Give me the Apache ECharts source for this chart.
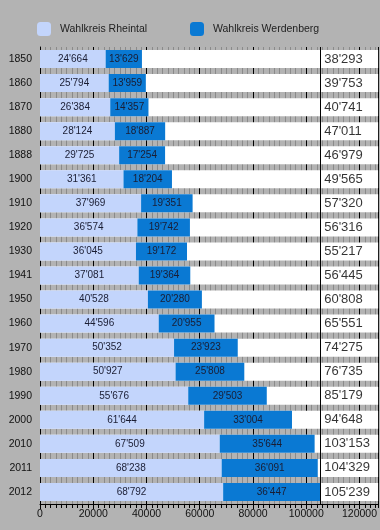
<!DOCTYPE html>
<html>
<head>
<meta charset="utf-8">
<script src="https://cdn.jsdelivr.net/npm/echarts@6/dist/echarts.min.js"></script>
<style>
html,body{margin:0;padding:0;background:#b3b3b3;}
#chart{width:380px;height:530px;}
</style>
</head>
<body>
<div id="chart"></div>
<script>
const years = ['1850','1860','1870','1880','1888','1900','1910','1920','1930','1941','1950','1960','1970','1980','1990','2000','2010','2011','2012'];
const rheintal = [24664,25794,26384,28124,29725,31361,37969,36574,36045,37081,40528,44596,50352,50927,55676,61644,67509,68238,68792];
const werdenberg = [13629,13959,14357,18887,17254,18204,19351,19742,19172,19364,20280,20955,23923,25808,29503,33004,35644,36091,36447];
const totals = [38293,39753,40741,47011,46979,49565,57320,56316,55217,56445,60808,65551,74275,76735,85179,94648,103153,104329,105239];
const xTicks = [0,20000,40000,60000,80000,100000,120000];
const seriesNames = ['Wahlkreis Rheintal','Wahlkreis Werdenberg'];

const FONT = "'Liberation Sans', Arial, sans-serif";
const LIGHT = '#c3d5fc';
const DARK = '#0a79d3';
const XMAX = 127000;
const maxTotal = Math.max(...totals);
const fmt = v => String(v).replace(/\B(?=(\d{3})+(?!\d))/g, "'");

const chart = echarts.init(document.getElementById('chart'), null, {renderer:'canvas'});
const barLabel = {
  show: true, position: 'inside', fontFamily: FONT, fontSize: 10, color: '#1a1d33',
  formatter: p => fmt(p.value)
};
const legendText = {fontFamily: FONT, fontSize: 10.5, color: '#222', padding: [0,0,0,4]};
chart.setOption({
  backgroundColor: '#b3b3b3',
  animation: false,
  textStyle: {fontFamily: FONT},
  legend: [
    {data: [seriesNames[0]], left: 37, top: 22, padding: 0, itemWidth: 14, itemHeight: 14, icon: 'roundRect',
     textStyle: legendText},
    {data: [seriesNames[1]], left: 190, top: 22, padding: 0, itemWidth: 14, itemHeight: 14, icon: 'roundRect',
     textStyle: legendText}
  ],
  grid: {left: 40, right: 0, top: 47, bottom: 26, containLabel: false},
  xAxis: [
    {type: 'value', min: 0, max: XMAX, interval: 2000, position: 'bottom',
     axisLine: {show: false}, axisLabel: {show: false},
     axisTick: {show: true, length: 4, lineStyle: {color: '#000'}},
     splitLine: {show: true, lineStyle: {color: '#8a8a8a', width: 1}}},
    {type: 'value', min: 0, max: XMAX, interval: 20000, position: 'bottom',
     axisLine: {show: true, lineStyle: {color: '#000', width: 1}},
     axisTick: {show: true, length: 5, lineStyle: {color: '#000'}},
     axisLabel: {show: true, fontFamily: FONT, fontSize: 10.5, color: '#111', margin: 5,
       showMaxLabel: false, formatter: v => xTicks.includes(v) ? String(v) : ''},
     splitLine: {show: true, lineStyle: {color: '#000', width: 1}}}
  ],
  yAxis: {
    type: 'category', data: years, inverse: true,
    axisLine: {show: true, lineStyle: {color: '#000', width: 1}},
    axisTick: {show: false},
    axisLabel: {fontFamily: FONT, fontSize: 10.5, color: '#111', margin: 8},
    splitLine: {show: false}
  },
  series: [
    {name: seriesNames[0], type: 'bar', stack: 'pop', xAxisIndex: 1, data: rheintal,
     barWidth: 18, itemStyle: {color: LIGHT},
     showBackground: true, backgroundStyle: {color: '#ffffff'},
     label: barLabel, z: 3,
     markLine: {silent: true, symbol: 'none', label: {show: false},
       lineStyle: {color: '#000', width: 1, type: 'solid'},
       data: [{xAxis: maxTotal}]}},
    {name: seriesNames[1], type: 'bar', stack: 'pop', xAxisIndex: 1, data: werdenberg,
     barWidth: 18, itemStyle: {color: DARK}, label: barLabel, z: 3},
    {name: 'total', type: 'scatter', xAxisIndex: 1, symbolSize: 0,
     data: totals.map((t, i) => [maxTotal, i, t]),
     label: {show: true, position: 'right', distance: 4, fontFamily: FONT, fontSize: 13, color: '#000',
       formatter: p => fmt(p.value[2])}, z: 5}
  ]
});
</script>
</body>
</html>
